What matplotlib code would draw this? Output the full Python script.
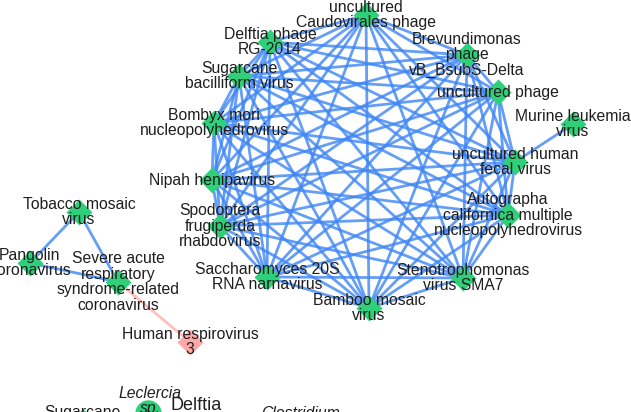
import itertools
import matplotlib.pyplot as plt

# clique of 13 viruses (all pairwise linked)
clique = [
    'uncultured\nCaudovirales phage', 'Brevundimonas\nphage\nvB_BsubS-Delta',
    'uncultured phage', 'uncultured human\nfecal virus',
    'Autographa\ncalifornica multiple\nnucleopolyhedrovirus',
    'Stenotrophomonas\nvirus SMA7', 'Bamboo mosaic\nvirus',
    'Saccharomyces 20S\nRNA narnavirus', 'Spodoptera\nfrugiperda\nrhabdovirus',
    'Nipah henipavirus', 'Bombyx mori\nnucleopolyhedrovirus',
    'Sugarcane\nbacilliform virus', 'Delftia phage\nRG-2014',
]
clique_x = [366, 467, 498, 515, 508, 463, 369, 267, 220, 212, 214, 239, 270]
clique_y = [15, 55, 92, 162, 215, 278, 308, 277, 226, 180, 123, 76, 42]

other = ['Murine leukemia\nvirus', 'Tobacco mosaic\nvirus', 'Pangolin\ncoronavirus',
         'Severe acute\nrespiratory\nsyndrome-related\ncoronavirus',
         'Human respirovirus\n3']
other_x = [573, 79, 30, 118, 190]
other_y = [124, 212, 263, 282, 342]
other_col = ['green', 'green', 'green', 'green', 'pink']

extra_edges = [('Murine leukemia\nvirus', 'uncultured human\nfecal virus', 'blue'),
               ('Tobacco mosaic\nvirus', 'Pangolin\ncoronavirus', 'blue'),
               ('Tobacco mosaic\nvirus', 'Severe acute\nrespiratory\nsyndrome-related\ncoronavirus', 'blue'),
               ('Pangolin\ncoronavirus', 'Severe acute\nrespiratory\nsyndrome-related\ncoronavirus', 'blue'),
               ('Severe acute\nrespiratory\nsyndrome-related\ncoronavirus', 'Human respirovirus\n3', 'pink')]

# bacteria row at the bottom (mostly cut off)
bact = ['Leclercia\nsp.', 'Delftia', 'Sugarcane', 'Clostridium']
bact_x = [150, 196, 82, 300]
bact_y = [401, 406, 412, 414]
bact_italic = [True, False, False, True]

colors = {'green': '#2fd07a', 'pink': '#ffa8a8', 'blue': '#3f86f5'}
edge_pink = '#ffb0b0'

pos = {}
for n, x, y in zip(clique, clique_x, clique_y):
    pos[n] = (x, y)
for n, x, y in zip(other, other_x, other_y):
    pos[n] = (x, y)

plt.rcParams['font.family'] = ['Liberation Sans', 'DejaVu Sans']

fig = plt.figure(figsize=(6.31, 4.12), dpi=100)
ax = fig.add_axes([0, 0, 1, 1])
ax.set_xlim(0, 631)
ax.set_ylim(412, 0)
ax.axis('off')

for a, b in itertools.combinations(clique, 2):
    ax.plot([pos[a][0], pos[b][0]], [pos[a][1], pos[b][1]],
            color=colors['blue'], lw=2, alpha=0.8, zorder=1, solid_capstyle='round')
for a, b, c in extra_edges:
    col = colors['blue'] if c == 'blue' else edge_pink
    ax.plot([pos[a][0], pos[b][0]], [pos[a][1], pos[b][1]],
            color=col, lw=2, alpha=0.8, zorder=1)

ax.plot(clique_x, clique_y, 'D', ms=13, color=colors['green'], mec='none', zorder=2)
for x, y, c in zip(other_x, other_y, other_col):
    ax.plot(x, y, 'D', ms=13, color=colors[c], mec='none', zorder=2)

for n in clique + other:
    ax.text(pos[n][0], pos[n][1], n, ha='center', va='center', fontsize=11.3,
            linespacing=1.05, color='#1e1e1e', zorder=3)

# Leclercia node circle
ax.plot(148, 413, 'o', ms=19, color=colors['green'], mec='none', zorder=2)
ax.plot(83, 414, 'o', ms=6, color=colors['green'], mec='none', zorder=2)
for t, x, y, it in zip(bact, bact_x, bact_y, bact_italic):
    ax.text(x, y, t, ha='center', va='center', fontsize=13 if t == 'Delftia' else 11.3,
            linespacing=1.05, color='#1e1e1e', style='italic' if it else 'normal', zorder=3)

fig.savefig('out.png', dpi=100)
